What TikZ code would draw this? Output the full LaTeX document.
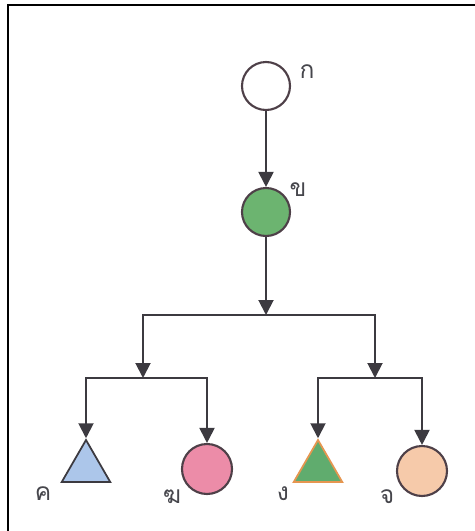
\documentclass[tikz,border=0pt]{standalone}
\usepackage{fontspec}
\newfontfamily\thaifont[Script=Thai]{Loma}
\usepackage{tikz}
\usetikzlibrary{arrows.meta,shapes.geometric}
\definecolor{treeink}{RGB}{60,58,64}
\definecolor{rimink}{RGB}{78,64,72}
\definecolor{leafgreen}{RGB}{108,180,112}
\definecolor{leafblue}{RGB}{172,198,234}
\definecolor{leafpink}{RGB}{236,140,168}
\definecolor{leafteal}{RGB}{96,172,110}
\definecolor{leaforange}{RGB}{230,150,80}
\definecolor{leafpeach}{RGB}{246,202,170}
\definecolor{labelgray}{RGB}{70,70,76}

\begin{document}
\begin{tikzpicture}[x=0.02cm,y=-0.02cm,
  ball/.style={circle,draw=rimink,line width=1.2pt,minimum size=0.96cm,inner sep=0pt},
  tri/.style={regular polygon,regular polygon sides=3,draw=treeink,line width=1pt,minimum size=1.12cm,inner sep=0pt},
  lab/.style={font=\thaifont\fontsize{14}{16}\selectfont,text=labelgray},
  arr/.style={-{Triangle[length=3mm,width=3mm]},line width=1.1pt,treeink}]
\useasboundingbox (0,0) rectangle (475,531);
\fill[white] (0,0) rectangle (475,531);
\draw[line width=1.7pt,black] (8,531) |- (475,5);
% top of the tree
\node[ball,fill=white] (ka) at (266,86) {};
\node[ball,fill=leafgreen] (kho) at (266,212) {};
\coordinate (j0) at (266,315);
\coordinate (jl) at (143,378);
\coordinate (jr) at (375,378);
% leaves
\node[tri,fill=leafblue] (kho2) at (86,468) {};
\node[ball,fill=leafpink,minimum size=1cm] (khong) at (207,469) {};
\node[tri,fill=leafteal,draw=leaforange] (ngo) at (318,468) {};
\node[ball,fill=leafpeach,minimum size=1cm] (cho) at (422,471) {};
% labels
\node[lab] at (307,72) {ก};
\node[lab] at (298,190) {ข};
\node[lab] at (43,494) {ค};
\node[lab] at (172,497) {ฆ};
\node[lab] at (283,494) {ง};
\node[lab] at (387,497) {จ};
% connectors
\draw[arr] (ka) -- (kho);
\draw[arr] (kho) -- (j0);
\foreach \v in {jl,jr} \draw[arr] (j0) -| (\v);
\foreach \v in {kho2,khong} \draw[arr] (jl) -| (\v.north);
\foreach \v in {ngo,cho} \draw[arr] (jr) -| (\v.north);
\end{tikzpicture}
\end{document}
